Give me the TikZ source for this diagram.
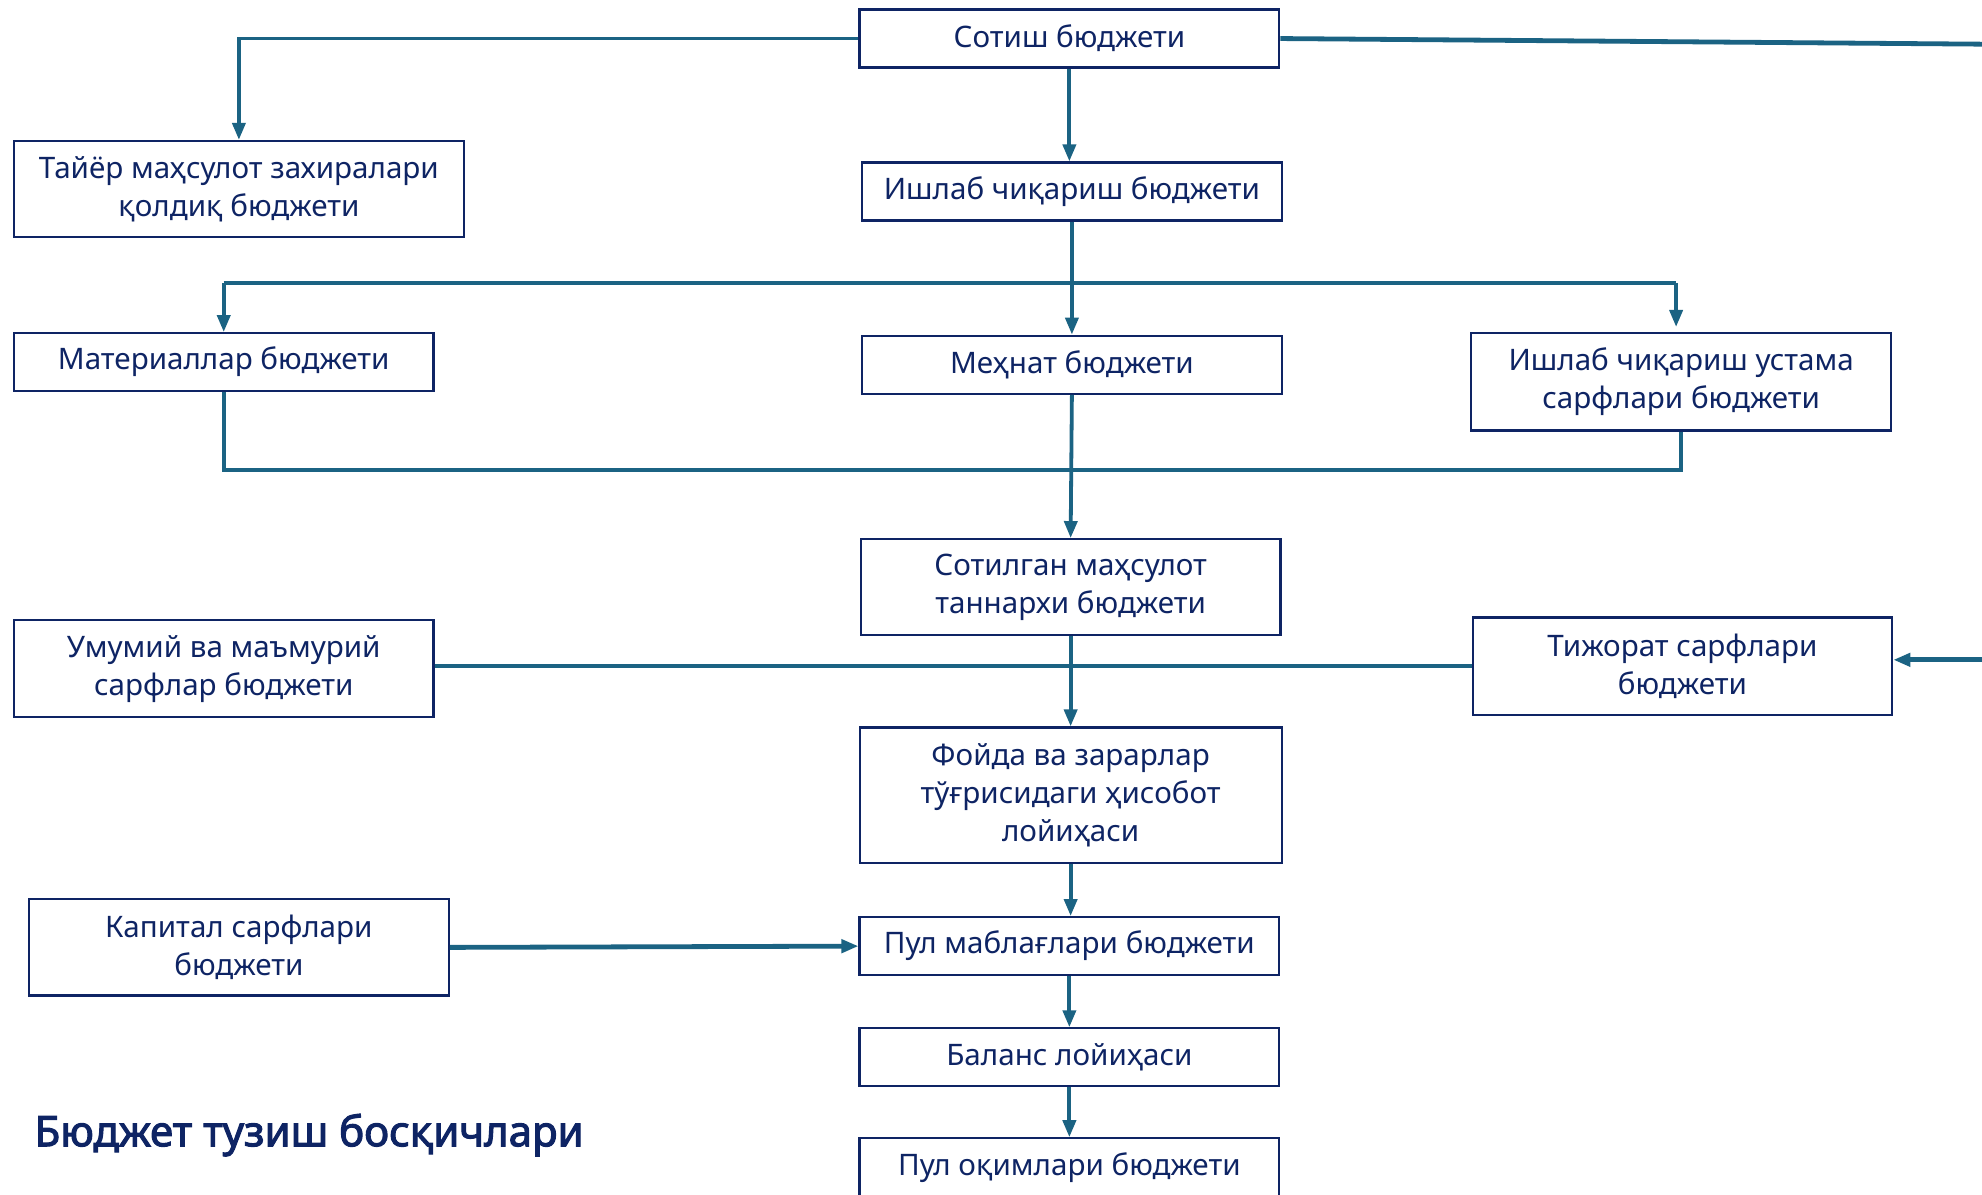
\documentclass[tikz,border=0pt]{standalone}
\usepackage{fontspec}
\setmainfont{Noto Sans}[AutoFakeBold=2.5]
\usetikzlibrary{arrows.meta}
\definecolor{navy}{HTML}{0E2464}
\definecolor{lnk}{HTML}{1B6383}
\begin{document}
\begin{tikzpicture}[x=0.632pt,y=-0.632pt,
  box/.style={draw=navy, line width=1.1pt, text=navy, align=center, inner sep=0pt,
    minimum width=209.8pt, minimum height=29pt, font=\fontsize{14.8}{19}\selectfont},
  conn/.style={draw=lnk, line width=1.9pt},
  arr/.style={conn, -{Triangle[length=8.5pt,width=6.5pt]}}]
\useasboundingbox (0,0) rectangle (1568,945);
\node[box] (sales) at (846,30.5) {Сотиш бюджети};
\node[box, minimum width=225pt, minimum height=48pt] (fgi) at (189,149.5) {Тайёр маҳсулот захиралари\\қолдиқ бюджети};
\node[box] (prod) at (848,151.5) {Ишлаб чиқариш бюджети};
\node[box] (mat) at (177,286.5) {Материаллар бюджети};
\node[box] (labor) at (848,288.5) {Меҳнат бюджети};
\node[box, minimum height=48.7pt] (ovh) at (1330,302) {Ишлаб чиқариш устама\\сарфлари бюджети};
\node[box, minimum height=48pt] (cogs) at (847,464.5) {Сотилган маҳсулот\\таннархи бюджети};
\node[box, minimum height=48.7pt] (ga) at (177,529) {Умумий ва маъмурий\\сарфлар бюджети};
\node[box, minimum height=48.7pt] (sell) at (1331,527) {Тижорат сарфлари\\бюджети};
\node[box, minimum width=211pt, minimum height=67.6pt] (pl) at (847,629) {Фойда ва зарарлар\\тўғрисидаги ҳисобот\\лойиҳаси};
\node[box, minimum height=48pt] (capex) at (189,749.5) {Капитал сарфлари\\бюджети};
\node[box] (cash) at (846,748.5) {Пул маблағлари бюджети};
\node[box] (bal) at (846,836.5) {Баланс лойиҳаси};
\node[box] (cf) at (846,923.5) {Пул оқимлари бюджети};
\node[anchor=west, text=navy, inner sep=0pt, font=\bfseries\fontsize{21}{25}\selectfont] (title) at (27,898) {Бюджет тузиш босқичлари};
% connectors
\draw[arr] (sales.west) -| (fgi.north);
\draw[arr] (sales.south) -- (sales.south |- prod.north);
\coordinate (offa) at (1575,35);
\coordinate (offb) at (1575,522);
\draw[conn, line width=2.4pt] (sales.east) -- (offa);
\draw[arr, line width=2.4pt] (offb) -- (offb -| sell.east);
\draw[arr] (prod.south) -- (labor.north);
\coordinate (bl) at (177,224);
\coordinate (br) at (1326,224);
\draw[conn] (bl) -- (br);
\draw[arr] (bl) -- (bl |- mat.north);
\draw[arr] (br) -- ([yshift=2.5pt]br |- ovh.north);
\coordinate (ml) at (177,372);
\draw[conn] (mat.south) -- (ml) -- (ml -| ovh.south) -- (ovh.south);
\draw[arr] (labor.south) -- (cogs.north);
\draw[conn] (ga.east |- sell.west) -- (sell.west);
\draw[arr] (cogs.south) -- (pl.north);
\draw[arr] (pl.south) -- (pl.south |- cash.north);
\draw[arr, line width=2.4pt] (capex.east) -- (cash.west);
\draw[arr] (cash.south) -- (bal.north);
\draw[arr] (bal.south) -- (cf.north);
\end{tikzpicture}
\end{document}
